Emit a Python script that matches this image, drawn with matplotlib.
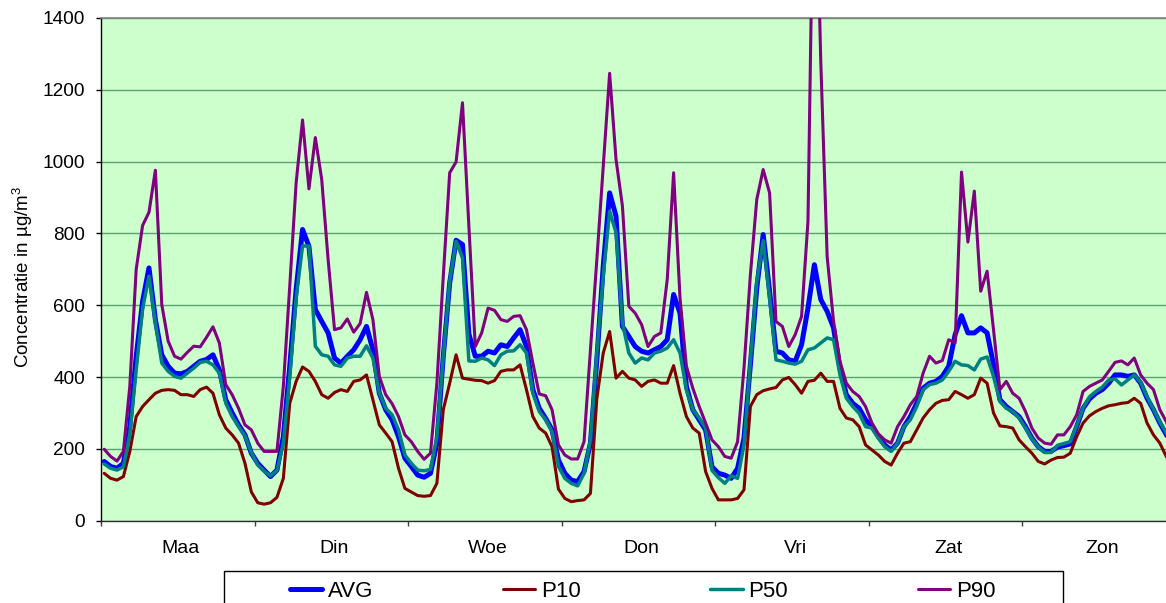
import numpy as np
import matplotlib
matplotlib.use("Agg")
import matplotlib.pyplot as plt
from matplotlib.patches import Rectangle

plt.rcParams['font.family'] = ['Liberation Sans', 'DejaVu Sans']
plt.rcParams['mathtext.fontset'] = 'custom'
plt.rcParams['mathtext.rm'] = 'Liberation Sans'
plt.rcParams['mathtext.it'] = 'Liberation Sans:italic'
plt.rcParams['mathtext.bf'] = 'Liberation Sans:bold'

# ---------------- data (hourly values, Monday..Sunday, 24 h each) ----------------
days = ['Maa', 'Din', 'Woe', 'Don', 'Vri', 'Zat', 'Zon']
series_names = ['AVG', 'P10', 'P50', 'P90']

avg = [
    165, 151, 146, 160, 262, 458, 611, 704, 560, 462, 430, 411, 409, 416, 430, 444, 449, 462, 420, 337, 300, 267, 239, 188,
    160, 141, 123, 141, 234, 430, 644, 811, 764, 588, 555, 523, 453, 439, 458, 476, 504, 541, 476, 355, 309, 281, 234, 174,
    151, 127, 121, 132, 216, 458, 662, 781, 769, 520, 458, 458, 472, 467, 490, 485, 509, 532, 485, 365, 313, 285, 253, 169,
    132, 113, 109, 137, 216, 448, 709, 913, 848, 541, 513, 485, 472, 467, 476, 485, 504, 630, 578, 374, 309, 281, 253, 150,
    132, 127, 118, 146, 230, 434, 648, 797, 639, 472, 467, 448, 444, 490, 592, 713, 616, 583, 537, 425, 351, 327, 313, 281,
    262, 234, 211, 197, 216, 262, 290, 327, 369, 383, 388, 402, 430, 518, 571, 523, 523, 537, 523, 435, 337, 318, 304, 290,
    262, 230, 206, 193, 193, 205, 209, 214, 262, 313, 339, 355, 365, 383, 406, 406, 402, 406, 383, 341, 309, 272, 240, 210,
]
p10 = [
    132, 118, 113, 123, 193, 290, 318, 337, 355, 363, 365, 363, 351, 351, 346, 365, 372, 355, 295, 258, 239, 216, 160, 80,
    50, 46, 50, 65, 118, 327, 388, 428, 416, 388, 351, 341, 357, 365, 360, 388, 392, 406, 337, 267, 244, 220, 146, 90,
    80, 70, 68, 70, 104, 309, 383, 462, 397, 394, 391, 390, 383, 390, 416, 420, 420, 434, 365, 290, 258, 244, 206, 88,
    62, 53, 56, 58, 76, 340, 467, 527, 397, 416, 397, 392, 374, 388, 392, 383, 383, 432, 355, 290, 258, 244, 137, 90,
    58, 58, 58, 62, 86, 318, 351, 362, 367, 371, 392, 399, 379, 355, 388, 391, 411, 388, 388, 313, 286, 281, 262, 211,
    197, 183, 165, 155, 188, 216, 220, 253, 286, 309, 327, 335, 337, 360, 351, 341, 351, 397, 383, 300, 264, 262, 258, 225,
    206, 188, 165, 158, 169, 176, 177, 188, 234, 272, 292, 304, 313, 320, 323, 327, 329, 341, 327, 272, 239, 216, 179, 150,
]
p50 = [
    158, 146, 141, 150, 240, 420, 590, 681, 551, 439, 416, 402, 397, 411, 425, 441, 444, 434, 411, 327, 290, 262, 236, 190,
    155, 138, 125, 140, 215, 400, 620, 765, 765, 486, 462, 458, 434, 430, 453, 458, 458, 487, 453, 355, 313, 295, 253, 183,
    160, 141, 139, 143, 234, 458, 667, 778, 732, 445, 444, 453, 448, 432, 462, 472, 473, 490, 467, 355, 304, 281, 248, 151,
    118, 104, 97, 132, 225, 467, 681, 862, 802, 551, 467, 439, 453, 448, 467, 472, 481, 504, 467, 365, 309, 286, 258, 140,
    120, 104, 125, 118, 211, 444, 667, 780, 620, 448, 444, 439, 436, 444, 476, 481, 495, 509, 504, 406, 341, 318, 299, 262,
    258, 230, 206, 193, 216, 262, 281, 318, 365, 379, 383, 392, 416, 444, 434, 432, 420, 450, 456, 402, 332, 313, 304, 286,
    258, 228, 205, 190, 190, 210, 215, 220, 265, 315, 345, 360, 372, 392, 395, 378, 392, 406, 385, 345, 310, 275, 245, 215,
]
p90 = [
    199, 179, 166, 193, 374, 700, 822, 859, 976, 602, 500, 458, 450, 469, 486, 484, 511, 540, 495, 379, 351, 313, 267, 253,
    216, 193, 193, 193, 374, 653, 941, 1116, 924, 1067, 950, 727, 532, 537, 562, 525, 549, 636, 560, 402, 351, 326, 290, 239,
    220, 193, 171, 188, 383, 681, 969, 999, 1164, 820, 485, 523, 592, 586, 560, 555, 569, 571, 532, 439, 353, 348, 309, 211,
    183, 172, 172, 220, 476, 727, 988, 1246, 1006, 876, 597, 578, 546, 485, 513, 523, 671, 969, 620, 430, 369, 318, 272, 225,
    206, 179, 174, 220, 425, 685, 895, 978, 913, 555, 541, 485, 518, 569, 834, 2000, 1280, 735, 555, 444, 383, 360, 346, 318,
    272, 242, 225, 216, 262, 290, 323, 346, 411, 458, 439, 446, 504, 495, 971, 776, 918, 639, 695, 532, 365, 388, 355, 341,
    304, 258, 230, 216, 213, 239, 239, 262, 295, 360, 374, 383, 392, 416, 441, 445, 434, 453, 406, 383, 365, 309, 276, 230,
]

# ---------------- figure ----------------
W, H = 1166, 603
fig = plt.figure(figsize=(W / 100, H / 100), dpi=100)
left_px, top_px, bottom_px = 101, 18, 520.7
ax = fig.add_axes([left_px / W, 1 - bottom_px / H, 1 - left_px / W, (bottom_px - top_px) / H])
ax.set_facecolor('#CCFFCC')

hours = np.arange(len(avg))
colors = {'AVG': '#0000FF', 'P10': '#800000', 'P50': '#008080', 'P90': '#800080'}
widths = {'AVG': 3.6, 'P10': 2.2, 'P50': 2.5, 'P90': 2.2}
data = {'AVG': avg, 'P10': p10, 'P50': p50, 'P90': p90}
handles = []
for name in series_names:
    ln, = ax.plot(hours, data[name], color=colors[name], lw=widths[name],
                  solid_joinstyle='round', solid_capstyle='round', label=name, zorder=3)
    handles.append(ln)

# y axis
ax.set_yticks(np.arange(0, 1401, 200))
ax.tick_params(axis='y', which='major', direction='out', length=3.6, width=1,
               labelsize=13.7, pad=7.9, colors='black')
ax.yaxis.grid(True, color='#5aa36e', lw=1)
ax.set_axisbelow(True)

# x axis: day boundaries as ticks, day names at hour 12
n_days = len(days)
ax.set_xticks(np.arange(0, 24 * n_days + 1, 24) - 0.5)
ax.set_xticklabels([])
ax.set_xticks(np.arange(n_days) * 24 + 12, minor=True)
ax.set_xticklabels(days, minor=True)
ax.tick_params(axis='x', which='major', direction='out', length=3.6, width=1, color='#404040')
ax.tick_params(axis='x', which='minor', length=0, labelsize=14, pad=13.9)

# axes limits (set after ticks): 6.398 px per hour, right edge cut at image edge
px_per_hour = 153.55 / 24
ax.set_xlim(-0.5, -0.5 + (W - left_px) / px_per_hour)
ax.set_ylim(0, 1400)

for side in ['left', 'bottom']:
    ax.spines[side].set_color('black')
    ax.spines[side].set_linewidth(1)
ax.spines['bottom'].set_color('#303030')
ax.spines['top'].set_color('#808080')
ax.spines['top'].set_linewidth(1.2)
ax.spines['right'].set_visible(False)

# y label
fig.text(23 / W, 1 - 277 / H, r'Concentratie in µg/m$^\mathrm{3}$', rotation=90,
         ha='center', va='center', fontsize=13.5)

# legend box (cut off at bottom of the image, as in the reference)
box_top = 571.4
fig.add_artist(Rectangle((224.3 / W, -0.05), (1062.5 - 224.3) / W, 0.05 + 1 - box_top / H,
                         transform=fig.transFigure, facecolor='white', edgecolor='black',
                         lw=1, zorder=1))
fig.legend(handles, series_names, loc='center left',
           bbox_to_anchor=(289.8 / W, 1 - 591.4 / H), ncol=4, frameon=False,
           fontsize=16, handlelength=1.45, handletextpad=0.25, columnspacing=5.85,
           borderpad=0, borderaxespad=0)

fig.savefig('out.png', dpi=100)
